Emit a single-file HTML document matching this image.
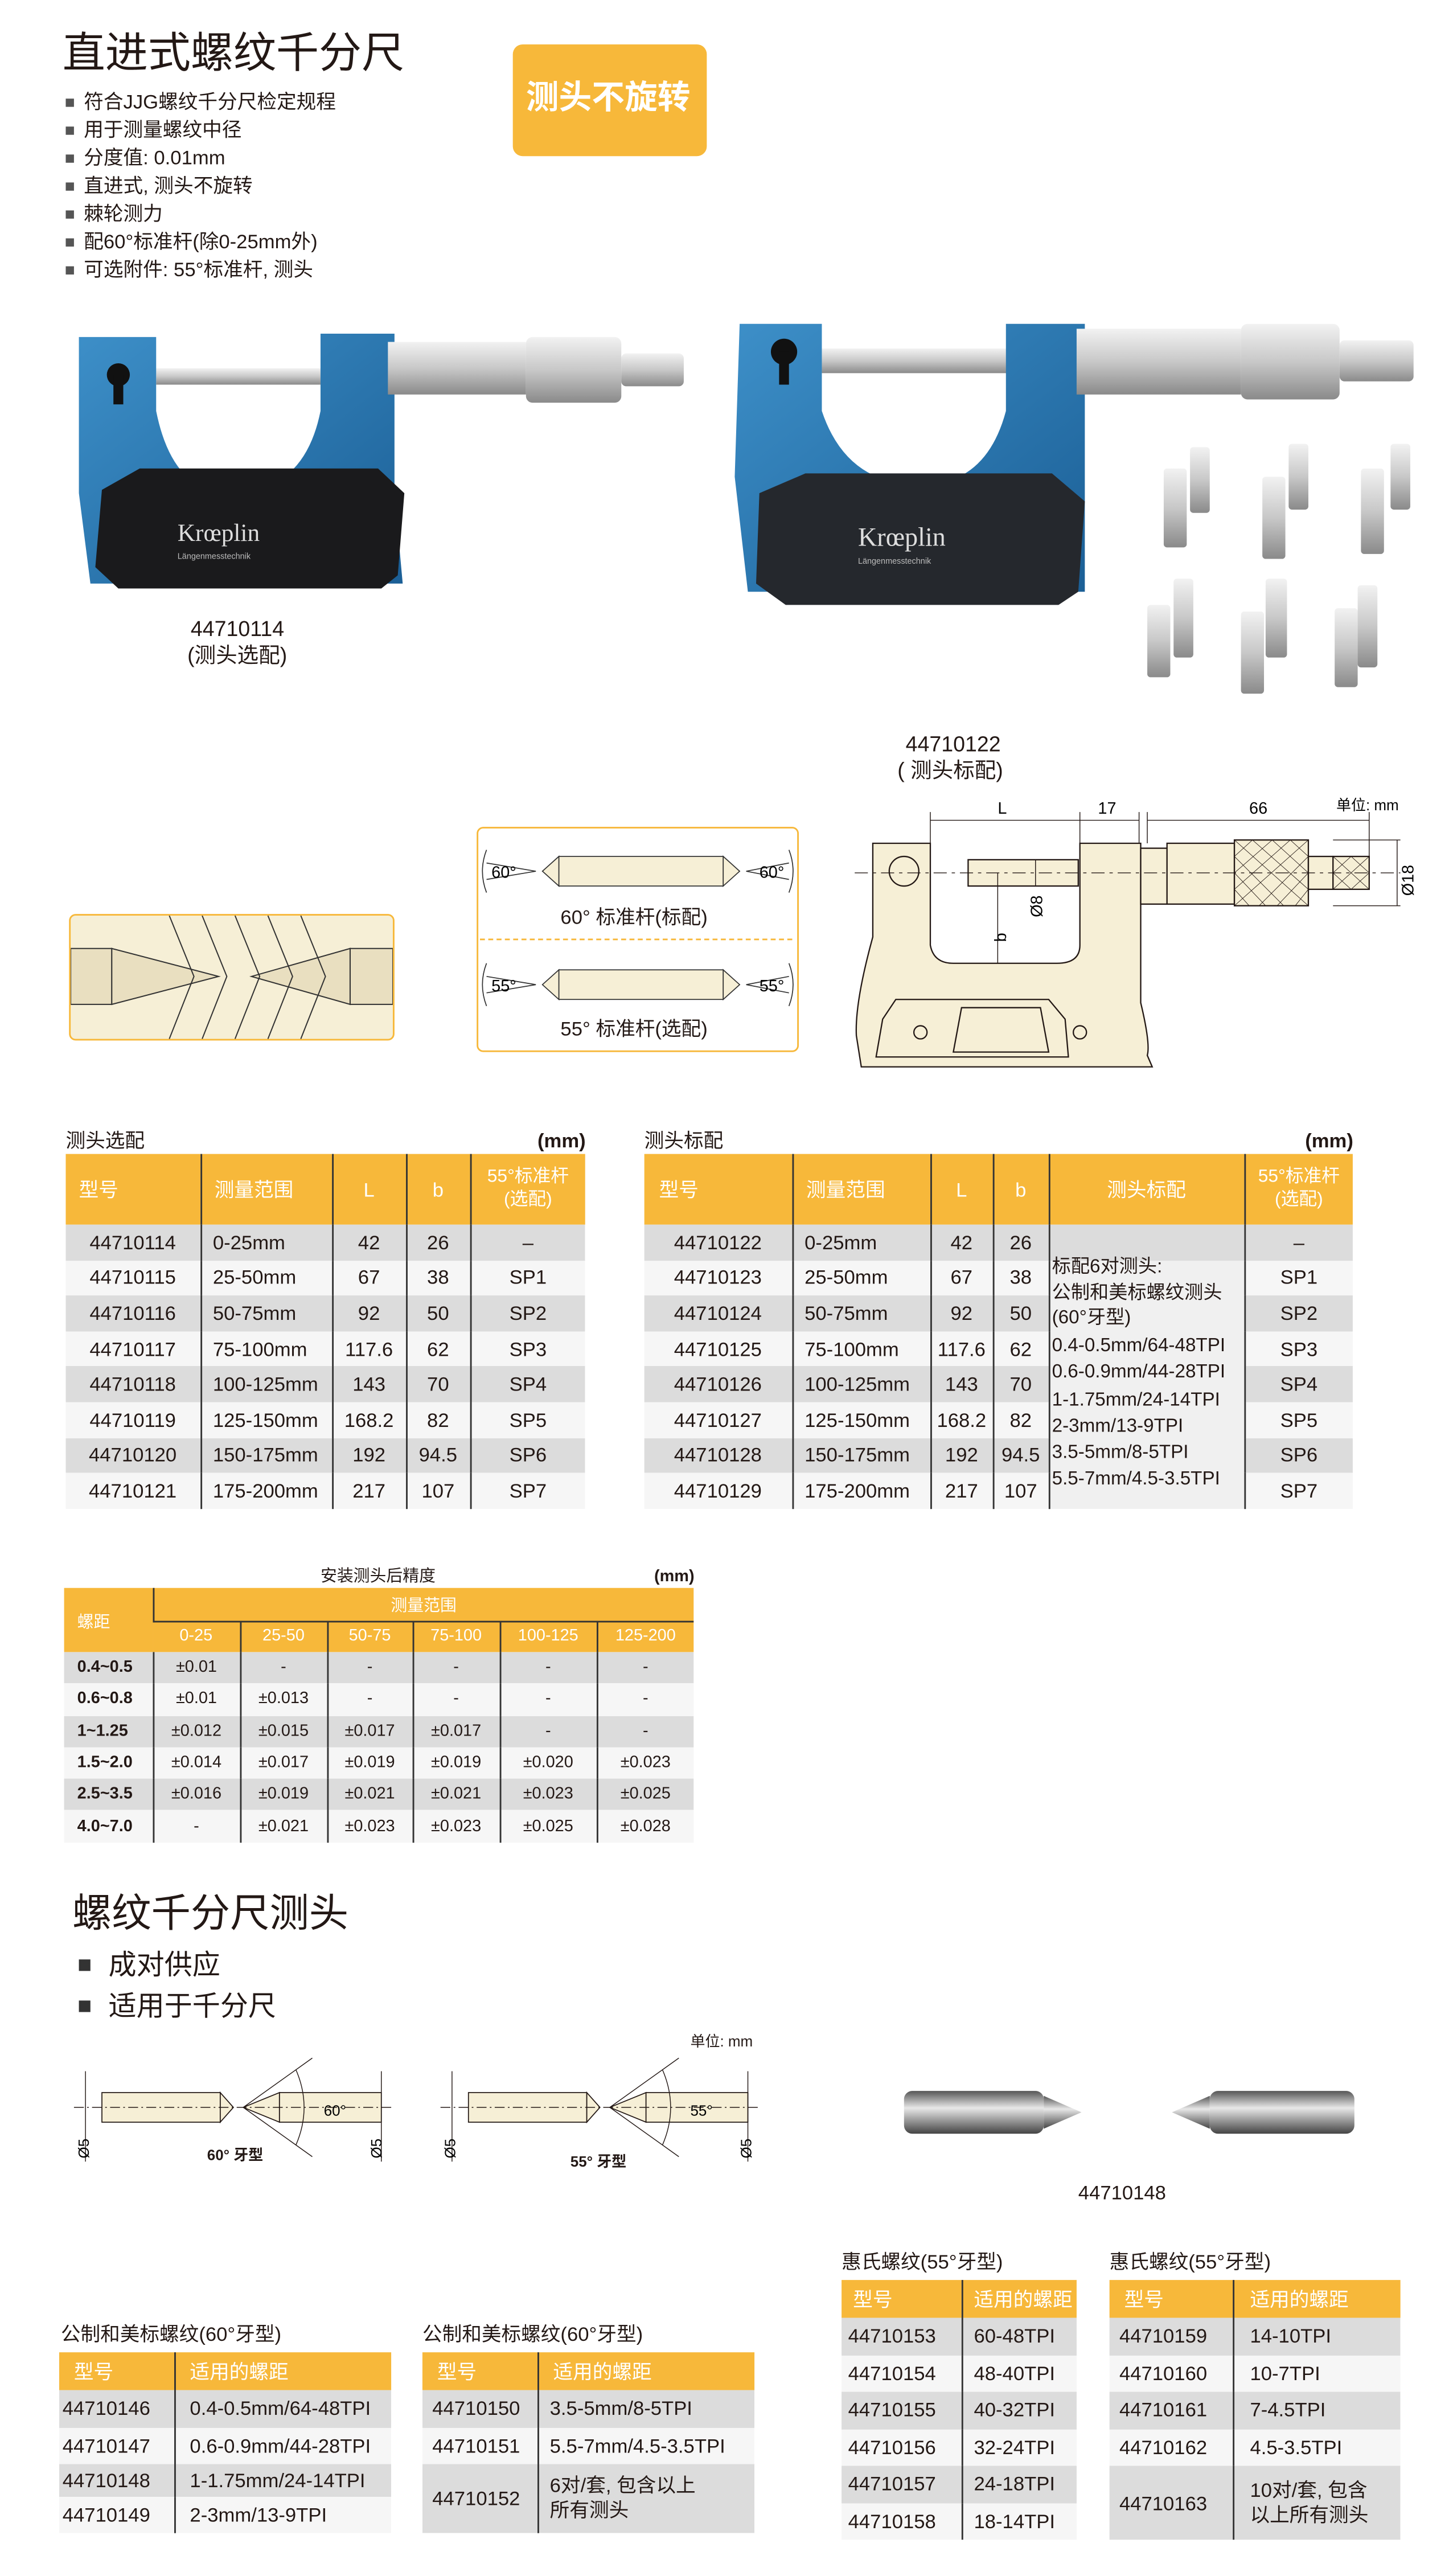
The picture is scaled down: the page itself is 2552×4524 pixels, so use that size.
<!DOCTYPE html>
<html><head><meta charset="utf-8">
<style>
html,body{margin:0;padding:0;background:#fff;}
body{width:2552px;height:4523px;overflow:hidden;position:relative;}
#w{position:absolute;left:0;top:0;width:884px;height:1567px;transform:scale(2.8869);transform-origin:0 0;font-family:"Liberation Sans Narrow","Liberation Sans","Noto Sans CJK SC",sans-serif;color:#231815;}
.t{position:absolute;white-space:nowrap;line-height:1;}
.cj{font-family:"Liberation Sans","Noto Sans CJK SC",sans-serif;}
table{position:absolute;border-collapse:collapse;table-layout:fixed;font-size:12px;}
td{padding:0;white-space:nowrap;overflow:hidden;}
th{padding:0;background:#f7b83a;color:#fff;font-weight:normal;}
tr.g td{background:#dcdcdc;}
tr.l td{background:#f6f6f6;}
td+td{border-left:0.8px solid #333;}
th+th{border-left:0.8px solid #333;}
.c td{text-align:center;}
.sq{position:absolute;width:5px;height:5px;background:#555;}
</style></head><body><div id="w">

<div class="t cj" style="left:38px;top:19px;font-size:26px;">直进式螺纹千分尺</div>
<div style="position:absolute;left:312px;top:27px;width:118px;height:68px;background:#f7b83a;border-radius:6px;"></div>
<div class="t cj" style="left:320px;top:50px;font-size:20px;color:#fff;font-weight:bold;">测头不旋转</div>

<div class="sq" style="left:40px;top:60px"></div><div class="t cj" style="left:51px;top:56px;font-size:12px;">符合JJG螺纹千分尺检定规程</div>
<div class="sq" style="left:40px;top:77px"></div><div class="t cj" style="left:51px;top:73px;font-size:12px;">用于测量螺纹中径</div>
<div class="sq" style="left:40px;top:94px"></div><div class="t cj" style="left:51px;top:90px;font-size:12px;">分度值: 0.01mm</div>
<div class="sq" style="left:40px;top:111px"></div><div class="t cj" style="left:51px;top:107px;font-size:12px;">直进式, 测头不旋转</div>
<div class="sq" style="left:40px;top:128px"></div><div class="t cj" style="left:51px;top:124px;font-size:12px;">棘轮测力</div>
<div class="sq" style="left:40px;top:145px"></div><div class="t cj" style="left:51px;top:141px;font-size:12px;">配60°标准杆(除0-25mm外)</div>
<div class="sq" style="left:40px;top:162px"></div><div class="t cj" style="left:51px;top:158px;font-size:12px;">可选附件: 55°标准杆, 测头</div>

<svg style="position:absolute;left:0;top:0" width="884" height="480">
<defs>
<linearGradient id="sil" x1="0" y1="0" x2="0" y2="1"><stop offset="0" stop-color="#f2f2f2"/><stop offset="0.5" stop-color="#c8c8c8"/><stop offset="1" stop-color="#8a8a8a"/></linearGradient>
<linearGradient id="blu" x1="0" y1="0" x2="1" y2="1"><stop offset="0" stop-color="#3d8fc8"/><stop offset="1" stop-color="#1b5f96"/></linearGradient>
</defs>
<rect x="95" y="224" width="100" height="10" fill="url(#sil)"/>
<path d="M48 205 H95 V250 Q105 300 140 300 Q185 300 195 250 V203 H240 V300 L245 355 H55 L48 300 Z" fill="url(#blu)"/>
<path d="M62 298 L85 285 H230 L246 300 L242 350 L232 358 H72 L58 345 Z" fill="#1a1a1c"/>
<text x="108" y="329" font-family="Liberation Serif" font-size="15" fill="#ddd">Krœplin</text>
<text x="108" y="340" font-family="Liberation Sans" font-size="5" fill="#bbb">Längenmesstechnik</text>
<circle cx="72" cy="228" r="7" fill="#111"/><rect x="69" y="228" width="6" height="18" fill="#111"/>
<rect x="236" y="208" width="84" height="32" fill="url(#sil)"/>
<rect x="320" y="205" width="58" height="40" rx="4" fill="url(#sil)"/>
<rect x="378" y="215" width="38" height="20" rx="3" fill="url(#sil)"/>
<rect x="500" y="212" width="115" height="15" fill="url(#sil)"/>
<path d="M450 197 H500 V250 Q515 295 560 295 Q600 295 612 250 V197 H660 V290 L660 360 H455 L447 290 Z" fill="url(#blu)"/>
<path d="M462 300 L490 288 H640 L660 305 L656 360 L644 368 H478 L460 355 Z" fill="#25282d"/>
<text x="522" y="332" font-family="Liberation Serif" font-size="16" fill="#ddd">Krœplin</text>
<text x="522" y="343" font-family="Liberation Sans" font-size="5" fill="#bbb">Längenmesstechnik</text>
<circle cx="477" cy="214" r="8" fill="#111"/><rect x="474" y="214" width="6" height="20" fill="#111"/>
<rect x="655" y="200" width="100" height="40" fill="url(#sil)"/>
<rect x="755" y="197" width="60" height="46" rx="4" fill="url(#sil)"/>
<rect x="815" y="207" width="45" height="25" rx="3" fill="url(#sil)"/>
<g fill="url(#sil)">
<rect x="708" y="285" width="14" height="48" rx="2"/><rect x="724" y="272" width="12" height="40" rx="2"/>
<rect x="768" y="290" width="14" height="50" rx="2"/><rect x="784" y="270" width="12" height="40" rx="2"/>
<rect x="828" y="285" width="14" height="52" rx="2"/><rect x="846" y="270" width="12" height="40" rx="2"/>
<rect x="698" y="368" width="14" height="44" rx="2"/><rect x="714" y="352" width="12" height="48" rx="2"/>
<rect x="755" y="372" width="14" height="50" rx="2"/><rect x="770" y="352" width="13" height="48" rx="2"/>
<rect x="812" y="370" width="14" height="48" rx="2"/><rect x="826" y="356" width="12" height="50" rx="2"/>
</g>
</svg>

<div class="t" style="left:116px;top:376px;font-size:13px;font-family:'Liberation Sans';">44710114</div>
<div class="t cj" style="left:114px;top:392px;font-size:13px;">(测头选配)</div>
<div class="t" style="left:551px;top:446px;font-size:13px;font-family:'Liberation Sans';">44710122</div>
<div class="t cj" style="left:546px;top:462px;font-size:13px;">(&nbsp;测头标配)</div>

<div style="position:absolute;left:290px;top:503px;width:194px;height:135px;border:1.2px solid #f7b83a;border-radius:4px;"></div>
<div style="position:absolute;left:292px;top:571px;width:190px;border-top:1px dashed #f7b83a;"></div>
<svg style="position:absolute;left:290px;top:503px" width="196" height="137">
<g stroke="#333" stroke-width="0.6" fill="#f6efd6">
<rect x="50" y="18" width="100" height="18"/><path d="M50 18 L40 27 L50 36 Z M150 18 L160 27 L150 36Z"/>
<rect x="50" y="87" width="100" height="18"/><path d="M50 87 L40 96 L50 105 Z M150 87 L160 96 L150 105Z"/>
</g>
<g stroke="#333" stroke-width="0.6" fill="none"><path d="M6 22 L36 27 L6 32 M6 91 L36 96 L6 101 M190 22 L164 27 L190 32 M190 91 L164 96 L190 101"/>
<path d="M6 14 Q1 27 6 40 M190 14 Q195 27 190 40 M6 83 Q1 96 6 109 M190 83 Q195 96 190 109"/></g>
<text x="9" y="31" font-size="10" font-family="Liberation Sans">60°</text><text x="172" y="31" font-size="10" font-family="Liberation Sans">60°</text>
<text x="9" y="100" font-size="10" font-family="Liberation Sans">55°</text><text x="172" y="100" font-size="10" font-family="Liberation Sans">55°</text>
</svg>
<div class="t cj" style="left:341px;top:552px;font-size:12px;">60° 标准杆(标配)</div>
<div class="t cj" style="left:341px;top:620px;font-size:12px;">55° 标准杆(选配)</div>

<div style="position:absolute;left:42px;top:556px;width:196px;height:75px;border:1.2px solid #f7b83a;border-radius:4px;overflow:hidden;background:#f6efd6;">
<svg width="196" height="75"><g stroke="#333" stroke-width="0.7" fill="#e9dfc0">
<rect x="0" y="20" width="25" height="34"/><path d="M25 20 L90 37 L25 54 Z"/>
<rect x="170" y="20" width="26" height="34"/><path d="M170 20 L110 37 L170 54 Z"/>
<path d="M60 0 L75 37 L60 75 M80 0 L95 37 L80 75 M100 0 L115 37 L100 75 M120 0 L135 37 L120 75 M140 0 L155 37 L140 75" fill="none"/>
</g></svg></div>

<svg style="position:absolute;left:500px;top:480px" width="384" height="180">
<g stroke="#231815" stroke-width="0.8" fill="#f6efd6">
<path d="M31 33 H66 V95 Q68 106 80 106 H143 Q157 106 157 95 V33 H194 V130 Q200 155 198 162 L201 169 H24 L21 150 Q20 130 31 90 Z"/>
<rect x="89" y="43" width="67" height="16"/>
<rect x="194" y="36" width="16" height="34"/>
<rect x="210" y="33" width="41" height="37"/>
<rect x="251" y="31" width="45" height="40"/>
<rect x="296" y="41" width="15" height="20"/>
<rect x="311" y="41" width="22" height="20"/>
<path d="M37 140 L45 128 H138 L148 140 L150 163 H33 Z"/>
<path d="M85 133 H133 L138 160 H80 Z"/>
<circle cx="60" cy="148" r="4"/><circle cx="157" cy="148" r="4"/>
<circle cx="50" cy="50" r="9"/>
</g>
<g stroke="#231815" stroke-width="0.3" fill="none">
<path d="M251 31 L296 71 M262 31 L296 61 M274 31 L296 51 M285 31 L296 41 M251 41 L281 71 M251 51 L270 71 M251 61 L260 71 M296 31 L251 71 M285 31 L251 61 M274 31 L251 51 M262 31 L251 41 M296 41 L266 71 M296 51 L277 71 M296 61 L288 71"/>
<path d="M311 41 L333 61 M322 41 L333 51 M311 51 L322 61 M333 41 L311 61 M322 41 L311 51 M333 51 L322 61"/>
</g>
<g stroke="#231815" stroke-width="0.5" fill="none">
<path d="M20 51 H352" stroke-dasharray="8 3 2 3"/>
<path d="M66 33 V14 M157 33 V14 M193 33 V14 M198 33 V14 M333 41 V14 M66 19 H157 M157 19 H193 M198 19 H333"/>
<path d="M311 31 H352 M311 71 H352 M350 31 V71 M107 51 V106 M130 43 V59"/>
</g>
<text x="107" y="15" font-size="10" font-family="Liberation Sans">L</text>
<text x="168" y="15" font-size="10" font-family="Liberation Sans">17</text>
<text x="260" y="15" font-size="10" font-family="Liberation Sans">66</text>
<text x="313" y="13" font-size="9" font-family="Liberation Sans,Noto Sans CJK SC">单位: mm</text>
<text transform="translate(112,93) rotate(-90)" font-size="10" font-family="Liberation Sans">b</text>
<text transform="translate(134,78) rotate(-90)" font-size="10" font-family="Liberation Sans">Ø8</text>
<text transform="translate(360,65) rotate(-90)" font-size="10" font-family="Liberation Sans">Ø18</text>
</svg>

<div class="t cj" style="left:40px;top:688px;font-size:12px;">测头选配</div>
<div class="t" style="left:327px;top:688px;font-size:12px;font-weight:bold;font-family:'Liberation Sans';">(mm)</div>
<table class="c" style="left:40px;top:702px;width:316px;">
<colgroup><col style="width:82px"><col style="width:80px"><col style="width:45px"><col style="width:39px"><col style="width:70px"></colgroup>
<tr style="height:43px"><th class="cj" style="text-align:left;padding-left:8px">型号</th><th class="cj" style="text-align:left;padding-left:8px">测量范围</th><th>L</th><th>b</th><th class="cj" style="font-size:11px;line-height:1.2">55°标准杆<br>(选配)</th></tr>
<tr class="g" style="height:21.6px"><td>44710114</td><td style="text-align:left;padding-left:7px">0-25mm</td><td>42</td><td>26</td><td>–</td></tr>
<tr class="l" style="height:21.6px"><td>44710115</td><td style="text-align:left;padding-left:7px">25-50mm</td><td>67</td><td>38</td><td>SP1</td></tr>
<tr class="g" style="height:21.6px"><td>44710116</td><td style="text-align:left;padding-left:7px">50-75mm</td><td>92</td><td>50</td><td>SP2</td></tr>
<tr class="l" style="height:21.6px"><td>44710117</td><td style="text-align:left;padding-left:7px">75-100mm</td><td>117.6</td><td>62</td><td>SP3</td></tr>
<tr class="g" style="height:21.6px"><td>44710118</td><td style="text-align:left;padding-left:7px">100-125mm</td><td>143</td><td>70</td><td>SP4</td></tr>
<tr class="l" style="height:21.6px"><td>44710119</td><td style="text-align:left;padding-left:7px">125-150mm</td><td>168.2</td><td>82</td><td>SP5</td></tr>
<tr class="g" style="height:21.6px"><td>44710120</td><td style="text-align:left;padding-left:7px">150-175mm</td><td>192</td><td>94.5</td><td>SP6</td></tr>
<tr class="l" style="height:21.6px"><td>44710121</td><td style="text-align:left;padding-left:7px">175-200mm</td><td>217</td><td>107</td><td>SP7</td></tr>
</table>

<div class="t cj" style="left:392px;top:688px;font-size:12px;">测头标配</div>
<div class="t" style="left:794px;top:688px;font-size:12px;font-weight:bold;font-family:'Liberation Sans';">(mm)</div>
<table class="c" style="left:392px;top:702px;width:431px;">
<colgroup><col style="width:90px"><col style="width:84px"><col style="width:38px"><col style="width:34px"><col style="width:119px"><col style="width:66px"></colgroup>
<tr style="height:43px"><th class="cj" style="text-align:left;padding-left:9px">型号</th><th class="cj" style="text-align:left;padding-left:8px">测量范围</th><th>L</th><th>b</th><th class="cj">测头标配</th><th class="cj" style="font-size:11px;line-height:1.2">55°标准杆<br>(选配)</th></tr>
<tr class="g" style="height:21.6px"><td>44710122</td><td style="text-align:left;padding-left:7px">0-25mm</td><td>42</td><td>26</td><td></td><td>–</td></tr>
<tr class="l" style="height:21.6px"><td>44710123</td><td style="text-align:left;padding-left:7px">25-50mm</td><td>67</td><td>38</td><td rowspan="7" style="background:#f0f0f0"></td><td>SP1</td></tr>
<tr class="g" style="height:21.6px"><td>44710124</td><td style="text-align:left;padding-left:7px">50-75mm</td><td>92</td><td>50</td><td>SP2</td></tr>
<tr class="l" style="height:21.6px"><td>44710125</td><td style="text-align:left;padding-left:7px">75-100mm</td><td>117.6</td><td>62</td><td>SP3</td></tr>
<tr class="g" style="height:21.6px"><td>44710126</td><td style="text-align:left;padding-left:7px">100-125mm</td><td>143</td><td>70</td><td>SP4</td></tr>
<tr class="l" style="height:21.6px"><td>44710127</td><td style="text-align:left;padding-left:7px">125-150mm</td><td>168.2</td><td>82</td><td>SP5</td></tr>
<tr class="g" style="height:21.6px"><td>44710128</td><td style="text-align:left;padding-left:7px">150-175mm</td><td>192</td><td>94.5</td><td>SP6</td></tr>
<tr class="l" style="height:21.6px"><td>44710129</td><td style="text-align:left;padding-left:7px">175-200mm</td><td>217</td><td>107</td><td>SP7</td></tr>
</table>
<div class="t cj" style="left:640px;top:764px;font-size:11.5px;line-height:15.5px;">标配6对测头:<br>公制和美标螺纹测头<br>(60°牙型)</div>
<div class="t" style="left:640px;top:811px;font-size:11.5px;line-height:16.3px;">0.4-0.5mm/64-48TPI<br>0.6-0.9mm/44-28TPI<br>1-1.75mm/24-14TPI<br>2-3mm/13-9TPI<br>3.5-5mm/8-5TPI<br>5.5-7mm/4.5-3.5TPI</div>

<div class="t cj" style="left:195px;top:955px;font-size:10px;">安装测头后精度</div>
<div class="t" style="left:398px;top:955px;font-size:10px;font-weight:bold;font-family:'Liberation Sans';">(mm)</div>
<table class="c" style="left:39px;top:966px;width:383px;font-size:10px;">
<colgroup><col style="width:54px"><col style="width:53px"><col style="width:53px"><col style="width:52px"><col style="width:53px"><col style="width:59px"><col style="width:59px"></colgroup>
<tr style="height:20px"><th rowspan="2" class="cj" style="text-align:left;padding-left:8px">螺距</th><th colspan="6" class="cj" style="border-bottom:0.8px solid #333">测量范围</th></tr>
<tr style="height:19px"><th>0-25</th><th>25-50</th><th>50-75</th><th>75-100</th><th>100-125</th><th>125-200</th></tr>
<tr class="g" style="height:19.3px"><td style="text-align:left;padding-left:8px;font-weight:bold">0.4~0.5</td><td>±0.01</td><td>-</td><td>-</td><td>-</td><td>-</td><td>-</td></tr>
<tr class="l" style="height:19.3px"><td style="text-align:left;padding-left:8px;font-weight:bold">0.6~0.8</td><td>±0.01</td><td>±0.013</td><td>-</td><td>-</td><td>-</td><td>-</td></tr>
<tr class="g" style="height:19.3px"><td style="text-align:left;padding-left:8px;font-weight:bold">1~1.25</td><td>±0.012</td><td>±0.015</td><td>±0.017</td><td>±0.017</td><td>-</td><td>-</td></tr>
<tr class="l" style="height:19.3px"><td style="text-align:left;padding-left:8px;font-weight:bold">1.5~2.0</td><td>±0.014</td><td>±0.017</td><td>±0.019</td><td>±0.019</td><td>±0.020</td><td>±0.023</td></tr>
<tr class="g" style="height:19.3px"><td style="text-align:left;padding-left:8px;font-weight:bold">2.5~3.5</td><td>±0.016</td><td>±0.019</td><td>±0.021</td><td>±0.021</td><td>±0.023</td><td>±0.025</td></tr>
<tr class="l" style="height:19.3px"><td style="text-align:left;padding-left:8px;font-weight:bold">4.0~7.0</td><td>-</td><td>±0.021</td><td>±0.023</td><td>±0.023</td><td>±0.025</td><td>±0.028</td></tr>
</table>

<div class="t cj" style="left:44px;top:1153px;font-size:24px;">螺纹千分尺测头</div>
<div class="sq" style="left:48px;top:1192px;width:7px;height:7px;background:#333"></div><div class="t cj" style="left:66px;top:1187px;font-size:17px;">成对供应</div>
<div class="sq" style="left:48px;top:1217px;width:7px;height:7px;background:#333"></div><div class="t cj" style="left:66px;top:1212px;font-size:17px;">适用于千分尺</div>

<svg style="position:absolute;left:40px;top:1235px" width="440" height="90">
<g stroke="#231815" stroke-width="0.6" fill="#f6efd6">
<rect x="22" y="38" width="72" height="18"/><path d="M94 38 L102 47 L94 56Z"/>
<rect x="130" y="38" width="62" height="18"/><path d="M130 38 L108 47 L130 56Z"/>
<rect x="245" y="38" width="72" height="18"/><path d="M317 38 L325 47 L317 56Z"/>
<rect x="353" y="38" width="62" height="18"/><path d="M353 38 L331 47 L353 56Z"/>
</g>
<g stroke="#231815" stroke-width="0.5" fill="none">
<path d="M5 47 H200 M228 47 H423" stroke-dasharray="6 2 1 2"/>
<path d="M12 25 V80 M192 25 V80 M235 25 V80 M415 25 V80 M108 47 L150 17 M108 47 L150 77 M331 47 L373 17 M331 47 L373 77 M140 24 Q150 47 140 70 M363 24 Q373 47 363 70"/>
</g>
<text x="157" y="52" font-size="9" font-family="Liberation Sans">60°</text>
<text x="380" y="52" font-size="9" font-family="Liberation Sans">55°</text>
<text transform="translate(14,78) rotate(-90)" font-size="9" font-family="Liberation Sans">Ø5</text>
<text transform="translate(192,78) rotate(-90)" font-size="9" font-family="Liberation Sans">Ø5</text>
<text transform="translate(237,78) rotate(-90)" font-size="9" font-family="Liberation Sans">Ø5</text>
<text transform="translate(417,78) rotate(-90)" font-size="9" font-family="Liberation Sans">Ø5</text>
</svg>
<div class="t cj" style="left:126px;top:1307px;font-size:9px;font-weight:bold;">60° 牙型</div>
<div class="t cj" style="left:347px;top:1311px;font-size:9px;font-weight:bold;">55° 牙型</div>
<div class="t cj" style="left:420px;top:1238px;font-size:9px;">单位: mm</div>

<svg style="position:absolute;left:540px;top:1262px" width="300" height="50">
<defs><linearGradient id="sil2" x1="0" y1="0" x2="0" y2="1"><stop offset="0" stop-color="#555"/><stop offset="0.4" stop-color="#e8e8e8"/><stop offset="1" stop-color="#444"/></linearGradient></defs>
<rect x="10" y="10" width="85" height="26" rx="5" fill="url(#sil2)"/>
<path d="M95 13 L118 23 L95 33 Z" fill="url(#sil2)"/>
<rect x="196" y="10" width="88" height="26" rx="5" fill="url(#sil2)"/>
<path d="M196 13 L173 23 L196 33 Z" fill="url(#sil2)"/>
</svg>
<div class="t" style="left:656px;top:1328px;font-size:12px;font-family:'Liberation Sans';">44710148</div>

<div class="t cj" style="left:37px;top:1414px;font-size:12px;">公制和美标螺纹(60°牙型)</div>
<table style="left:36px;top:1431px;width:202px;">
<colgroup><col style="width:70px"><col style="width:132px"></colgroup>
<tr style="height:23px"><th class="cj" style="text-align:left;padding-left:9px">型号</th><th class="cj" style="text-align:left;padding-left:9px">适用的螺距</th></tr>
<tr class="g" style="height:22.5px"><td style="padding-left:2px">44710146</td><td style="padding-left:9px">0.4-0.5mm/64-48TPI</td></tr>
<tr class="l" style="height:22.5px"><td style="padding-left:2px">44710147</td><td style="padding-left:9px">0.6-0.9mm/44-28TPI</td></tr>
<tr class="g" style="height:20px"><td style="padding-left:2px">44710148</td><td style="padding-left:9px">1-1.75mm/24-14TPI</td></tr>
<tr class="l" style="height:22px"><td style="padding-left:2px">44710149</td><td style="padding-left:9px">2-3mm/13-9TPI</td></tr>
</table>

<div class="t cj" style="left:257px;top:1414px;font-size:12px;">公制和美标螺纹(60°牙型)</div>
<table style="left:257px;top:1431px;width:202px;">
<colgroup><col style="width:70px"><col style="width:132px"></colgroup>
<tr style="height:23px"><th class="cj" style="text-align:left;padding-left:9px">型号</th><th class="cj" style="text-align:left;padding-left:9px">适用的螺距</th></tr>
<tr class="g" style="height:22.5px"><td style="padding-left:6px">44710150</td><td style="padding-left:7px">3.5-5mm/8-5TPI</td></tr>
<tr class="l" style="height:22.5px"><td style="padding-left:6px">44710151</td><td style="padding-left:7px">5.5-7mm/4.5-3.5TPI</td></tr>
<tr class="g" style="height:42px"><td style="padding-left:6px">44710152</td><td class="cj" style="padding-left:7px;line-height:1.25">6对/套, 包含以上<br>所有测头</td></tr>
</table>

<div class="t cj" style="left:512px;top:1370px;font-size:12px;">惠氏螺纹(55°牙型)</div>
<table style="left:512px;top:1387px;width:143px;">
<colgroup><col style="width:73px"><col style="width:70px"></colgroup>
<tr style="height:23px"><th class="cj" style="text-align:left;padding-left:7px">型号</th><th class="cj" style="text-align:left;padding-left:7px">适用的螺距</th></tr>
<tr class="g" style="height:22.5px"><td style="padding-left:4px">44710153</td><td style="padding-left:7px">60-48TPI</td></tr>
<tr class="l" style="height:22.5px"><td style="padding-left:4px">44710154</td><td style="padding-left:7px">48-40TPI</td></tr>
<tr class="g" style="height:22.5px"><td style="padding-left:4px">44710155</td><td style="padding-left:7px">40-32TPI</td></tr>
<tr class="l" style="height:22.5px"><td style="padding-left:4px">44710156</td><td style="padding-left:7px">32-24TPI</td></tr>
<tr class="g" style="height:22.5px"><td style="padding-left:4px">44710157</td><td style="padding-left:7px">24-18TPI</td></tr>
<tr class="l" style="height:22.5px"><td style="padding-left:4px">44710158</td><td style="padding-left:7px">18-14TPI</td></tr>
</table>

<div class="t cj" style="left:675px;top:1370px;font-size:12px;">惠氏螺纹(55°牙型)</div>
<table style="left:675px;top:1387px;width:177px;">
<colgroup><col style="width:75px"><col style="width:102px"></colgroup>
<tr style="height:23px"><th class="cj" style="text-align:left;padding-left:9px">型号</th><th class="cj" style="text-align:left;padding-left:10px">适用的螺距</th></tr>
<tr class="g" style="height:22.5px"><td style="padding-left:6px">44710159</td><td style="padding-left:10px">14-10TPI</td></tr>
<tr class="l" style="height:22.5px"><td style="padding-left:6px">44710160</td><td style="padding-left:10px">10-7TPI</td></tr>
<tr class="g" style="height:22.5px"><td style="padding-left:6px">44710161</td><td style="padding-left:10px">7-4.5TPI</td></tr>
<tr class="l" style="height:22.5px"><td style="padding-left:6px">44710162</td><td style="padding-left:10px">4.5-3.5TPI</td></tr>
<tr class="g" style="height:45px"><td style="padding-left:6px">44710163</td><td class="cj" style="padding-left:10px;line-height:1.25">10对/套, 包含<br>以上所有测头</td></tr>
</table>

</div></body></html>
